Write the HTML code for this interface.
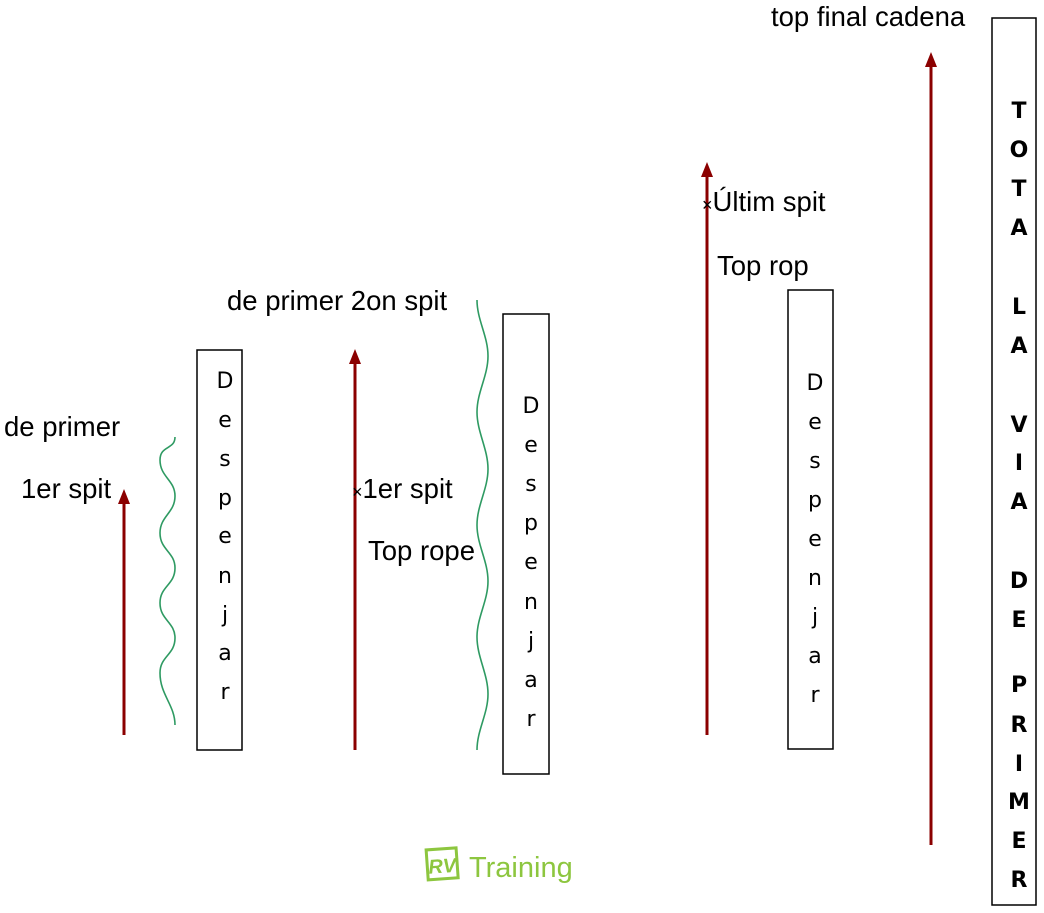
<!DOCTYPE html>
<html><head><meta charset="utf-8"><style>
html,body{margin:0;padding:0;background:#fff;}
svg{display:block}
.t{font-family:"Liberation Sans",sans-serif;font-size:27.5px;fill:#000}
.d{font-family:"DejaVu Sans",sans-serif;font-size:22px;fill:#000;text-anchor:middle}
.b{font-family:"DejaVu Sans",sans-serif;font-size:22px;font-weight:bold;fill:#000;text-anchor:middle}
</style></head><body>
<svg width="1044" height="913" viewBox="0 0 1044 913" xmlns="http://www.w3.org/2000/svg">
<g stroke="#000" stroke-width="1.5" fill="none">
<rect x="197" y="350" width="45" height="400"/>
<rect x="503" y="314" width="46" height="460"/>
<rect x="788" y="290" width="45" height="459"/>
<rect x="992" y="18" width="44" height="887"/>
</g>
<g stroke="#8b0000" stroke-width="3" fill="none">
<line x1="124" y1="735" x2="124" y2="496"/>
<line x1="355" y1="750" x2="355" y2="356"/>
<line x1="707" y1="735" x2="707" y2="169"/>
<line x1="931" y1="845" x2="931" y2="59"/>
</g>
<g fill="#8b0000">
<path d="M118 504 L124 489 L130 504Z"/>
<path d="M349 364 L355 349 L361 364Z"/>
<path d="M701 177 L707 162 L713 177Z"/>
<path d="M925 67 L931 52 L937 67Z"/>
</g>
<g stroke="#2e9a62" stroke-width="1.6" fill="none">
<path d="M175 437 C175 450,160 445,160 460 C160 477,175 480,175 496 C175 513,160 516,160 533 C160 550,175 552,175 568 C175 585,160 586,160 603 C160 620,175 622,175 638 C175 655,160 656,160 673 C160 695,175 705,175 725"/>
<path d="M477 300 C477 320,488 336,488 356 C488 376,477 392,477 412 C477 432,488 449,488 469 C488 489,477 505,477 525 C477 545,488 561,488 581 C488 601,477 617,477 637 C477 657,488 674,488 694 C488 714,477 730,477 750"/>
</g>
<text class="t" x="771" y="26">top final cadena</text>
<text class="t" x="4" y="436">de primer</text>
<text class="t" x="21" y="498">1er spit</text>
<text class="t" x="352" y="498"><tspan font-size="18">×</tspan>1er spit</text>
<text class="t" x="368" y="560">Top rope</text>
<text class="t" x="227" y="310">de primer 2on spit</text>
<text class="t" x="702" y="211"><tspan font-size="18">×</tspan>Últim spit</text>
<text class="t" x="717" y="275">Top rop</text>
<g class="d">
<text x="225" y="388">D</text><text x="225" y="427">e</text><text x="225" y="466">s</text><text x="225" y="505">p</text><text x="225" y="543">e</text><text x="225" y="583">n</text><text x="225" y="622">j</text><text x="225" y="660">a</text><text x="225" y="699">r</text>
<text x="531" y="413">D</text><text x="531" y="452">e</text><text x="531" y="491">s</text><text x="531" y="530">p</text><text x="531" y="569">e</text><text x="531" y="609">n</text><text x="531" y="648">j</text><text x="531" y="687">a</text><text x="531" y="726">r</text>
<text x="815" y="390">D</text><text x="815" y="429">e</text><text x="815" y="468">s</text><text x="815" y="507">p</text><text x="815" y="546">e</text><text x="815" y="585">n</text><text x="815" y="624">j</text><text x="815" y="663">a</text><text x="815" y="702">r</text>
</g>
<g class="b">
<text x="1019" y="118">T</text><text x="1019" y="157">O</text><text x="1019" y="196">T</text><text x="1019" y="235">A</text>
<text x="1019" y="314">L</text><text x="1019" y="353">A</text>
<text x="1019" y="432">V</text><text x="1019" y="470">I</text><text x="1019" y="509">A</text>
<text x="1019" y="588">D</text><text x="1019" y="627">E</text>
<text x="1019" y="692">P</text><text x="1019" y="732">R</text><text x="1019" y="771">I</text><text x="1019" y="809">M</text><text x="1019" y="848">E</text><text x="1019" y="887">R</text>
</g>
<g transform="translate(425,847) rotate(-4 15 15)">
<rect x="2" y="2" width="30" height="30" fill="none" stroke="#8dc63f" stroke-width="3"/>
<text x="17" y="26" font-family="Liberation Sans,sans-serif" font-size="20" font-style="italic" font-weight="bold" fill="#8dc63f" text-anchor="middle">RV</text>
</g>
<text x="469" y="877" font-family="Liberation Sans,sans-serif" font-size="29" fill="#8dc63f">Training</text>
</svg>
</body></html>
